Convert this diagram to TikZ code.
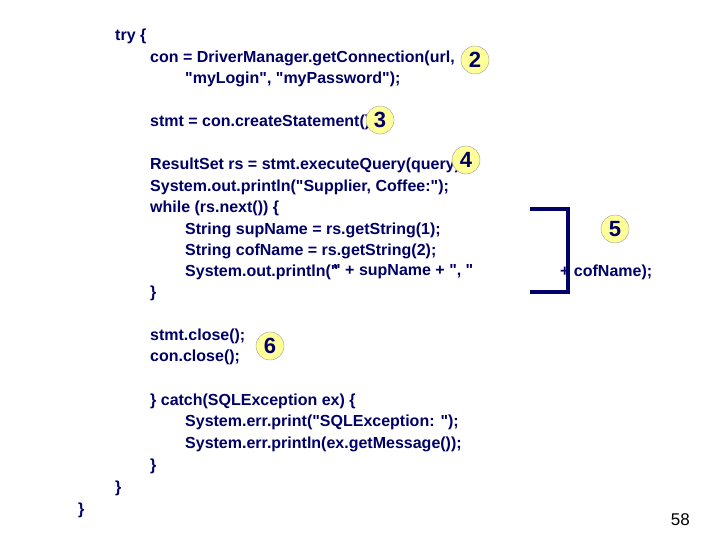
\documentclass[tikz,border=0pt]{standalone}
\usepackage{fontspec}
\setmainfont{Liberation Sans}
\definecolor{code}{HTML}{000066}
\definecolor{badge}{HTML}{FFFF99}
\newcommand{\q}{\textquotedbl}
\tikzset{
 ln/.style={anchor=west,inner sep=0pt,text=code,font=\fontsize{16}{16}\selectfont\bfseries},
 num/.style={circle,draw=gray!80,thin,fill=badge,minimum size=28pt,inner sep=0pt,text=code,font=\fontsize{22}{22}\selectfont\bfseries}
}
\begin{document}
\begin{tikzpicture}[x=1pt,y=-1pt]
\useasboundingbox[fill=white] (0,0) rectangle (720,540);
\node[ln] (l1) at (115,36) {try \{};
\node[ln] (l2) at (150,58) {con = DriverManager.getConnection(url,};
\node[ln] (l3) at (185,79) {\q myLogin\q, \q myPassword\q);};
\node[ln] (l4) at (150,122) {stmt = con.createStatement();};
\node[ln] (l5) at (150,165) {ResultSet rs = stmt.executeQuery(query);};
\node[ln] (l6) at (150,187) {System.out.println(\q Supplier, Coffee:\q);};
\node[ln] (l7) at (150,208) {while (rs.next()) \{};
\node[ln] (l8) at (185,230) {String supName = rs.getString(1);};
\node[ln] (l9) at (185,251) {String cofName = rs.getString(2);};
\node[ln] (l10a) at (185,272) {System.out.println(\q};
\node[ln] (l10b) at (333,272) {\q\ + supName + \q, \q};
\node[ln] (l10c) at (560,272) {+ cofName);};
\node[ln] (l11) at (150,293) {\}};
\node[ln] (l12) at (150,336) {stmt.close();};
\node[ln] (l13) at (150,357) {con.close();};
\node[ln] (l14) at (150,401) {\} catch(SQLException ex) \{};
\node[ln] (l15) at (185,422) {System.err.print(\q SQLException: \q);};
\node[ln] (l16) at (185,444) {System.err.println(ex.getMessage());};
\node[ln] (l17) at (150,466) {\}};
\node[ln] (l18) at (115,488) {\}};
\node[ln] (l19) at (78,510) {\}};
\node[anchor=east,inner sep=0pt,font=\fontsize{17}{17}\selectfont] (pg) at (690,520) {58};
\node[num] (n2) at (475,60) {2};
\node[num] (n3) at (380,120) {3};
\node[num] (n4) at (466,160) {4};
\node[num] (n5) at (615,229) {5};
\node[num] (n6) at (270,346) {6};
\draw[code,line width=3.5pt] (530,209) -- (568,209) -- (568,292) -- (530,292);
\end{tikzpicture}
\end{document}
